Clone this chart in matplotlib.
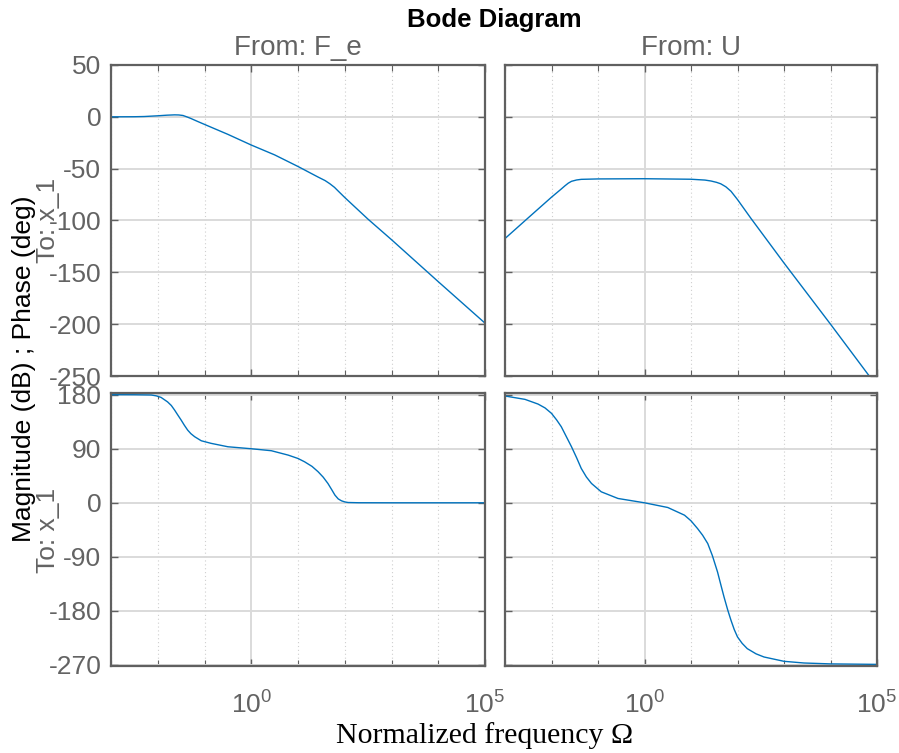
import numpy as np
import matplotlib
matplotlib.use("Agg")
import matplotlib.pyplot as plt
from matplotlib.ticker import FixedLocator, NullFormatter

plt.rcParams['font.family'] = ['Liberation Sans', 'DejaVu Sans']
plt.rcParams['mathtext.fontset'] = 'custom'
plt.rcParams['mathtext.rm'] = 'Liberation Sans'
plt.rcParams['mathtext.it'] = 'Liberation Sans:italic'
plt.rcParams['mathtext.bf'] = 'Liberation Sans:bold'
plt.rcParams['axes.unicode_minus'] = False

# ---------------- data (log10 of normalized frequency, values) ----------------
mag_fe_logw = [-3.0, -2.5, -2.29, -2.0, -1.8, -1.64, -1.55, -1.46, -1.38, -1.29, -1.15,
               -1.0, -0.5, 0.0, 0.5, 1.0, 1.43, 1.58, 1.68, 1.78, 1.86, 2.0, 2.5, 3.0,
               4.0, 5.0]
mag_fe_db = [0.0, 0.1, 0.3, 1.0, 1.6, 1.9, 1.8, 1.3, 0.0, -1.6, -4.4,
             -7.3, -16.9, -27.2, -36.7, -47.9, -58.1, -61.5, -64.5, -68.0, -71.6, -77.8,
             -98.8, -118.5, -159.0, -199.0]

mag_u_logw = [-3.0, -2.5, -2.0, -1.8, -1.71, -1.64, -1.57, -1.46, -1.36, -1.0, 0.0, 1.0,
              1.3, 1.43, 1.55, 1.64, 1.75, 1.86, 2.0, 2.29, 3.0, 4.0, 5.0]
mag_u_db = [-117.4, -97.4, -77.5, -70.0, -66.5, -64.0, -62.2, -60.9, -60.3, -59.9, -59.7,
            -60.2, -61.0, -61.9, -63.2, -64.6, -67.5, -71.8, -79.8, -98.0, -141.0, -200.0,
            -260.0]

ph_fe_logw = [-3.0, -2.5, -2.14, -2.03, -1.93, -1.79, -1.71, -1.64, -1.57, -1.5, -1.43,
              -1.36, -1.29, -1.21, -1.07, -0.86, -0.5, 0.0, 0.43, 0.79, 1.0, 1.14, 1.3,
              1.43, 1.54, 1.64, 1.72, 1.79, 1.86, 1.93, 2.0, 2.07, 2.3, 3.0, 5.0]
ph_fe_deg = [180.0, 179.9, 179.5, 178.0, 175.5, 168.0, 162.0, 154.4, 146.0, 137.8, 129.0,
             121.0, 115.0, 110.0, 103.3, 99.0, 93.3, 90.0, 86.7, 79.4, 73.8, 68.3, 60.6,
             51.7, 42.6, 32.2, 22.0, 12.8, 6.5, 3.3, 1.5, 0.5, 0.1, 0.0, 0.0]

ph_u_logw = [-3.0, -2.57, -2.29, -2.14, -2.0, -1.89, -1.79, -1.68, -1.57, -1.46, -1.36,
             -1.25, -1.14, -0.93, -0.57, 0.0, 0.5, 0.86, 1.0, 1.14, 1.25, 1.36, 1.46,
             1.57, 1.64, 1.71, 1.79, 1.86, 1.93, 2.0, 2.1, 2.21, 2.4, 2.57, 3.0, 3.43,
             4.0, 5.0]
ph_u_deg = [177.8, 172.2, 164.4, 158.0, 148.9, 138.0, 126.7, 110.0, 93.3, 75.0, 57.2,
            43.0, 32.2, 18.3, 7.2, 0.0, -7.8, -20.6, -30.0, -42.8, -54.0, -67.8, -88.0,
            -115.0, -136.0, -156.7, -178.5, -195.6, -211.0, -223.3, -234.0, -242.8,
            -251.5, -256.7, -263.9, -266.7, -268.2, -269.0]

mag_ticks = [-250, -200, -150, -100, -50, 0, 50]
phase_ticks = [-270, -180, -90, 0, 90, 180]
decades = [1e-3, 1e-2, 1e-1, 1e0, 1e1, 1e2, 1e3, 1e4, 1e5]
major_x = [1e-5, 1e0, 1e5]

# ---------------- figure ----------------
W, H = 899, 753
fig = plt.figure(figsize=(W / 100, H / 100), dpi=100)


def ax_at(l, t, r, b):
    return fig.add_axes([l / W, 1 - b / H, (r - l) / W, (b - t) / H])


ax_tl = ax_at(111, 65, 485, 376)
ax_tr = ax_at(505, 65, 877, 376)
ax_bl = ax_at(111, 393, 485, 666)
ax_br = ax_at(505, 393, 877, 666)

LINE = '#0072BD'
SPINE = '#606060'
TXT = '#636363'


def style(ax, yticks, ylim, show_x, show_y):
    ax.set_xscale('log')
    ax.set_xlim(1e-3, 1e5)
    ax.set_ylim(*ylim)
    ax.xaxis.set_major_locator(FixedLocator(major_x))
    ax.xaxis.set_minor_locator(FixedLocator(decades))
    ax.xaxis.set_minor_formatter(NullFormatter())
    ax.set_yticks(yticks)
    ax.grid(True, which='major', color='#dadada', lw=1.4, ls='-')
    ax.grid(True, which='minor', axis='x', color='#cfcfcf', lw=0.8, ls=(0, (1, 2.5)))
    ax.set_axisbelow(True)
    for s in ax.spines.values():
        s.set_color(SPINE)
        s.set_linewidth(1.6)
    ax.tick_params(which='both', direction='in', top=True, right=True, color=SPINE,
                   labelcolor=TXT, labelsize=19)
    ax.tick_params(which='major', length=5, width=1.0)
    ax.tick_params(which='minor', length=4, width=0.8)
    ax.tick_params(axis='y', pad=7)
    ax.tick_params(axis='x', pad=18)
    ax.tick_params(labelbottom=show_x, labelleft=show_y)


style(ax_tl, mag_ticks, (-250, 50), False, True)
style(ax_tr, mag_ticks, (-250, 50), False, False)
style(ax_bl, phase_ticks, (-271.7, 182.8), True, True)
style(ax_br, phase_ticks, (-271.7, 182.8), True, False)

ax_tl.plot(np.power(10.0, mag_fe_logw), mag_fe_db, color=LINE, lw=1.0)
ax_tr.plot(np.power(10.0, mag_u_logw), mag_u_db, color=LINE, lw=1.0)
ax_bl.plot(np.power(10.0, ph_fe_logw), ph_fe_deg, color=LINE, lw=1.0)
ax_br.plot(np.power(10.0, ph_u_logw), ph_u_deg, color=LINE, lw=1.0)

# ---------------- texts ----------------
fig.text(494 / W, 1 - 27 / H, 'Bode Diagram', ha='center', va='baseline',
         fontsize=18.5, fontweight='bold', color='black')
fig.text(298 / W, 1 - 55 / H, 'From: F_e', ha='center', va='baseline',
         fontsize=20, color=TXT)
fig.text(691 / W, 1 - 55 / H, 'From: U', ha='center', va='baseline',
         fontsize=20, color=TXT)
fig.text(24 / W, 1 - 369 / H, 'Magnitude (dB) ; Phase (deg)', rotation=90,
         ha='center', va='center', fontsize=19, color='black')
fig.text(48 / W, 1 - 220 / H, 'To: x_1', rotation=90, ha='center', va='center',
         fontsize=19, color=TXT)
fig.text(48 / W, 1 - 530 / H, 'To: x_1', rotation=90, ha='center', va='center',
         fontsize=19, color=TXT)
fig.text(484.5 / W, 1 - 743 / H, 'Normalized frequency Ω', ha='center', va='baseline',
         fontsize=21.5, color='black', family=['Liberation Serif', 'DejaVu Serif'])

fig.savefig('out.png', dpi=100)
